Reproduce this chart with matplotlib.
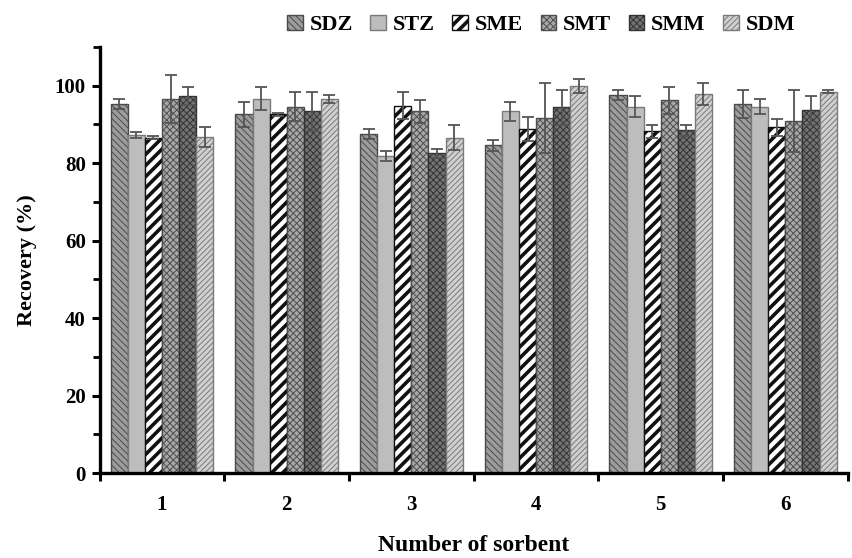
import numpy as np
import matplotlib
matplotlib.use("Agg")
import matplotlib.pyplot as plt
from matplotlib.ticker import MultipleLocator

categories = ["1", "2", "3", "4", "5", "6"]
series = ["SDZ", "STZ", "SME", "SMT", "SMM", "SDM"]
SDZ = [95.2, 92.6, 87.4, 84.6, 97.6, 95.2]
STZ = [87.3, 96.6, 81.8, 93.4, 94.6, 94.6]
SME = [86.6, 92.6, 94.8, 88.8, 88.2, 89.2]
SMT = [96.6, 94.6, 93.4, 91.6, 96.2, 90.8]
SMM = [97.4, 93.4, 82.5, 94.4, 88.5, 93.6]
SDM = [86.8, 96.6, 86.6, 100.0, 97.8, 98.4]
SDZ_err = [1.3, 3.2, 1.3, 1.4, 1.4, 3.6]
STZ_err = [0.7, 3.0, 1.3, 2.4, 2.6, 2.0]
SME_err = [0.4, 0.4, 3.5, 3.0, 1.7, 2.3]
SMT_err = [6.2, 3.8, 3.0, 9.0, 3.4, 8.0]
SMM_err = [2.3, 5.0, 1.1, 4.6, 1.4, 3.7]
SDM_err = [2.6, 1.0, 3.3, 1.8, 2.8, 0.4]

values = [SDZ, STZ, SME, SMT, SMM, SDM]
errors = [SDZ_err, STZ_err, SME_err, SMT_err, SMM_err, SDM_err]

styles = [
    dict(facecolor="#9c9c9c", edgecolor="#4a4a4a", hatch="\\\\\\\\\\", hlw=0.7),
    dict(facecolor="#bdbdbd", edgecolor="#7a7a7a", hatch=None, hlw=0.7),
    dict(facecolor="white", edgecolor="#111111", hatch="///", hlw=2.6),
    dict(facecolor="#a8a8a8", edgecolor="#4e4e4e", hatch="xxxxx", hlw=0.7),
    dict(facecolor="#737373", edgecolor="#333333", hatch="xxxxx", hlw=0.7),
    dict(facecolor="#d0d0d0", edgecolor="#7a7a7a", hatch="//////", hlw=0.7),
]

serif = ["Liberation Serif", "DejaVu Serif"]

fig = plt.figure(figsize=(8.52, 5.58), dpi=100)
ax = fig.add_axes([0.117, 0.152, 0.878, 0.764])

x = np.arange(1, len(categories) + 1)
width = 0.137
offsets = (np.arange(len(series)) - 2.5) * width
handles = []
for i, name in enumerate(series):
    st = styles[i]
    b = ax.bar(x + offsets[i], values[i], width=width,
               facecolor=st["facecolor"], edgecolor=st["edgecolor"],
               hatch=st["hatch"], linewidth=1.0, label=name, zorder=2)
    for p in b.patches:
        if hasattr(p, "set_hatch_linewidth"):
            p.set_hatch_linewidth(st["hlw"])
    ax.errorbar(x + offsets[i], values[i], yerr=errors[i], fmt="none",
                ecolor="#555555", elinewidth=1.3, capsize=4, capthick=1.3, zorder=3)
    handles.append(b)

ax.set_xlim(0.5, 6.5)
ax.set_ylim(0, 110)
ax.yaxis.set_major_locator(MultipleLocator(20))
ax.yaxis.set_minor_locator(MultipleLocator(10))
ax.set_yticks([0, 20, 40, 60, 80, 100])
ax.set_xticks(x)
ax.set_xticklabels(categories)
ax.set_xticks(np.arange(0.5, 7.0, 1.0), minor=True)
ax.tick_params(axis="x", which="major", length=0, pad=16)
ax.tick_params(axis="x", which="minor", length=6, width=2.2, direction="out")
ax.tick_params(axis="y", which="major", length=6, width=2.2, direction="out", pad=4)
ax.tick_params(axis="y", which="minor", length=5, width=2.0, direction="out")
for s in ["top", "right"]:
    ax.spines[s].set_visible(False)
for s in ["left", "bottom"]:
    ax.spines[s].set_linewidth(2.4)

for lab in ax.get_xticklabels() + ax.get_yticklabels():
    lab.set_fontfamily(serif)
    lab.set_fontweight("bold")
    lab.set_fontsize(15)

ax.set_xlabel("Number of sorbent", fontfamily=serif, fontweight="bold", fontsize=17, labelpad=14)
ax.set_ylabel("Recovery (%)", fontfamily=serif, fontweight="bold", fontsize=16, labelpad=13)

leg = fig.legend(handles=handles, labels=series, loc="center", bbox_to_anchor=(0.635, 0.955),
                 ncol=6, frameon=False, handlelength=0.7, handleheight=0.7,
                 columnspacing=0.8, handletextpad=0.3,
                 prop=dict(family=serif, weight="bold", size=16))
for h, st in zip(leg.legend_handles, styles):
    if hasattr(h, "set_hatch_linewidth"):
        h.set_hatch_linewidth(st["hlw"])

fig.savefig("out.png", dpi=100)
